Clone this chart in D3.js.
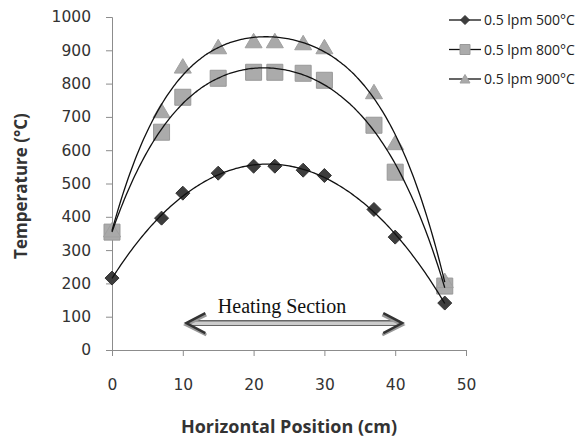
<!DOCTYPE html>
<html>
<head>
<meta charset="utf-8">
<script src="https://cdn.jsdelivr.net/npm/d3@7"></script>
<style>
  body { margin: 0; background: #fff; }
  text { font-family: "Open Sans", "DejaVu Sans", sans-serif; fill: #333; }
</style>
</head>
<body>
<div id="chart"></div>
<script>
// positions along the tube (cm)
var positions = [0, 7, 10, 15, 20, 23, 27, 30, 37, 40, 47];
// temperatures (°C) for each run
var temp500 = [216, 396, 471, 531, 552, 552, 540, 524, 422, 339, 141];
var temp800 = [354, 654, 759, 816, 834, 834, 831, 810, 675, 534, 192];
var temp900 = [360, 718, 852, 910, 928, 928, 922, 910, 775, 622, 208];
var seriesNames = ["0.5 lpm 500°C", "0.5 lpm 800°C", "0.5 lpm 900°C"];
var xTicks = [0, 10, 20, 30, 40, 50];
var yTicks = [0, 100, 200, 300, 400, 500, 600, 700, 800, 900, 1000];
var heatingSpan = [10.5, 41];

var width = 579, height = 439;
var svg = d3.select("#chart").append("svg")
  .attr("width", width)
  .attr("height", height);

var x = d3.scaleLinear().domain([0, 50]).range([112, 466]);
var y = d3.scaleLinear().domain([0, 1000]).range([350, 17]);

// axes
var xAxis = svg.append("g")
  .attr("transform", "translate(0," + y(0) + ")")
  .call(d3.axisBottom(x).tickValues(xTicks).tickFormat(d3.format("d")).tickSize(6).tickPadding(23));
var yAxis = svg.append("g")
  .attr("transform", "translate(" + x(0) + ",0)")
  .call(d3.axisLeft(y).tickValues(yTicks).tickFormat(d3.format("d")).tickSize(6).tickPadding(15));

[xAxis, yAxis].forEach(function(g) {
  g.select(".domain").attr("stroke", "#8c8c8c");
  g.selectAll(".tick line").attr("stroke", "#8c8c8c");
  g.selectAll(".tick text")
    .style("font-family", "'DejaVu Sans', sans-serif")
    .style("font-size", "15.5px")
    .style("fill", "#333");
});

// axis titles
svg.append("text")
  .attr("x", 289).attr("y", 433)
  .attr("text-anchor", "middle")
  .style("font-size", "18px").style("font-weight", "bold")
  .text("Horizontal Position (cm)");
svg.append("text")
  .attr("transform", "translate(27,186) rotate(-90)")
  .attr("text-anchor", "middle")
  .style("font-size", "17px").style("font-weight", "bold")
  .text("Temperature (°C)");

// least squares polynomial trendline
function polyFit(xs, ys, order) {
  var n = order + 1, A = [], b = [];
  for (var i = 0; i < n; i++) {
    A.push(new Array(n).fill(0));
    b.push(0);
  }
  xs.forEach(function(xv, k) {
    var u = xv / 50;
    for (var i = 0; i < n; i++) {
      for (var j = 0; j < n; j++) A[i][j] += Math.pow(u, i + j);
      b[i] += ys[k] * Math.pow(u, i);
    }
  });
  for (var c = 0; c < n; c++) {
    var p = c;
    for (var r = c + 1; r < n; r++) if (Math.abs(A[r][c]) > Math.abs(A[p][c])) p = r;
    var t = A[c]; A[c] = A[p]; A[p] = t;
    var tb = b[c]; b[c] = b[p]; b[p] = tb;
    for (var r = c + 1; r < n; r++) {
      var f = A[r][c] / A[c][c];
      for (var j = c; j < n; j++) A[r][j] -= f * A[c][j];
      b[r] -= f * b[c];
    }
  }
  var coef = new Array(n).fill(0);
  for (var i = n - 1; i >= 0; i--) {
    var s = b[i];
    for (var j = i + 1; j < n; j++) s -= A[i][j] * coef[j];
    coef[i] = s / A[i][i];
  }
  return function(xv) {
    var u = xv / 50, s = 0;
    for (var i = 0; i < n; i++) s += coef[i] * Math.pow(u, i);
    return s;
  };
}

var series = [
  { name: seriesNames[0], values: temp500, shape: "diamond", fill: "#3d3d3d", stroke: "#333" },
  { name: seriesNames[1], values: temp800, shape: "square", fill: "#ababab", stroke: "#999" },
  { name: seriesNames[2], values: temp900, shape: "triangle", fill: "#a9a9a9", stroke: "#a0a0a0" }
];

var line = d3.line().x(function(d) { return x(d[0]); }).y(function(d) { return y(d[1]); }).curve(d3.curveMonotoneX);
var xMin = d3.min(positions), xMax = d3.max(positions);

function symbolPath(shape, size) {
  if (shape === "diamond") {
    var r = size / 2;
    return "M0," + (-r) + "L" + r + ",0L0," + r + "L" + (-r) + ",0Z";
  }
  if (shape === "square") {
    var h = size / 2;
    return "M" + (-h) + "," + (-h) + "h" + size + "v" + size + "h" + (-size) + "Z";
  }
  var w = size / 2, t = size * 0.45;
  return "M0," + (-t) + "L" + w + "," + (size * 0.4) + "L" + (-w) + "," + (size * 0.4) + "Z";
}

var sizes = { diamond: 14, square: 16, triangle: 17 };

// markers first, trendlines on top (as in the original)
series.forEach(function(s) {
  svg.append("g").selectAll("path")
    .data(positions.map(function(p, i) { return [p, s.values[i]]; }))
    .enter().append("path")
    .attr("transform", function(d) { return "translate(" + x(d[0]) + "," + y(d[1]) + ")"; })
    .attr("d", symbolPath(s.shape, sizes[s.shape]))
    .attr("fill", s.fill)
    .attr("stroke", s.stroke)
    .attr("stroke-width", 1);
});

series.forEach(function(s) {
  var fit = polyFit(positions, s.values, 4);
  var pts = d3.range(xMin, xMax + 0.01, 0.25).map(function(p) { return [p, fit(p)]; });
  svg.append("path")
    .attr("d", line(pts))
    .attr("fill", "none")
    .attr("stroke", "#111")
    .attr("stroke-width", 1.3);
});

// legend
var legend = svg.append("g");
series.forEach(function(s, i) {
  var ly = 20 + i * 29.5;
  legend.append("line")
    .attr("x1", 449).attr("x2", 481).attr("y1", ly).attr("y2", ly)
    .attr("stroke", "#111").attr("stroke-width", 1.3);
  legend.append("path")
    .attr("transform", "translate(465," + ly + ")")
    .attr("d", symbolPath(s.shape, s.shape === "diamond" ? 9 : 10))
    .attr("fill", s.fill).attr("stroke", s.stroke);
  legend.append("text")
    .attr("x", 484).attr("y", ly + 5)
    .style("font-size", "14px")
    .style("fill", "#222")
    .text(s.name);
});

// heating section arrow
var ay = y(81);
var ax1 = x(heatingSpan[0]), ax2 = x(heatingSpan[1]);
var arrow = svg.append("g");
[[-2.2, "#333", 1.2], [0, "#bbb", 1.6], [2.2, "#333", 1.2]].forEach(function(l) {
  arrow.append("line")
    .attr("x1", ax1 + 3).attr("x2", ax2 - 3)
    .attr("y1", ay + l[0]).attr("y2", ay + l[0])
    .attr("stroke", l[1]).attr("stroke-width", l[2]);
});
// arrowheads, with grey shadow
[[ax1, 1], [ax2, -1]].forEach(function(h) {
  var hx = h[0], dir = h[1];
  arrow.append("path")
    .attr("d", "M" + (hx + dir * 20) + "," + (ay - 8) + "L" + hx + "," + (ay + 2) + "L" + (hx + dir * 20) + "," + (ay + 12))
    .attr("fill", "none").attr("stroke", "#999").attr("stroke-width", 3);
  arrow.append("path")
    .attr("d", "M" + (hx + dir * 19) + "," + (ay - 10) + "L" + hx + "," + ay + "L" + (hx + dir * 19) + "," + (ay + 10))
    .attr("fill", "none").attr("stroke", "#333").attr("stroke-width", 2.5);
});
svg.append("text")
  .attr("x", 282).attr("y", 313)
  .attr("text-anchor", "middle")
  .style("font-family", "'Liberation Serif', 'DejaVu Serif', serif")
  .style("font-size", "20px")
  .style("fill", "#111")
  .text("Heating Section");
</script>
</body>
</html>
